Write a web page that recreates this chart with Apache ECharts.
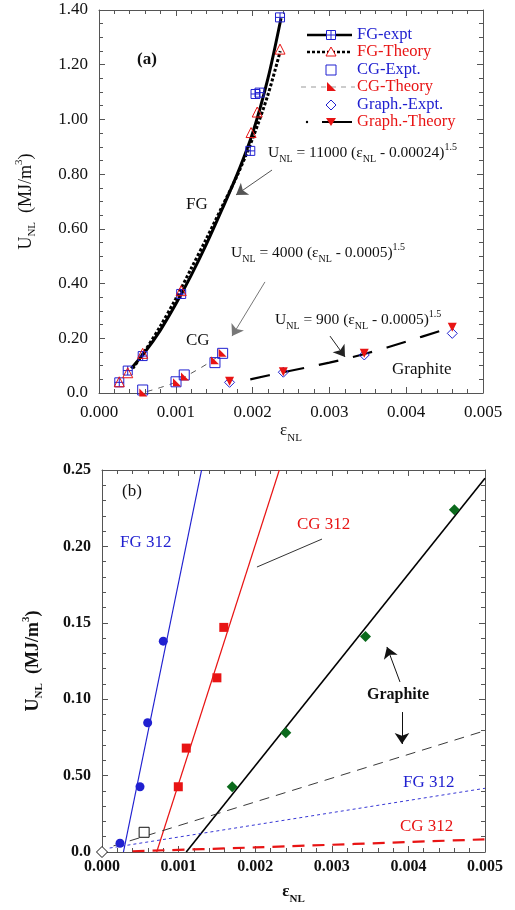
<!DOCTYPE html>
<html>
<head>
<meta charset="utf-8">
<script src="https://cdn.jsdelivr.net/npm/echarts@6/dist/echarts.min.js"></script>
<style>
  html, body { margin: 0; padding: 0; background: #fff; }
  #chart { width: 515px; height: 910px; }
</style>
</head>
<body>
<div id="chart"></div>
<script>
// ---- tick labels ----
const xTickLabels = ['0.000', '0.001', '0.002', '0.003', '0.004', '0.005'];
const yTickLabelsA = ['0.0', '0.20', '0.40', '0.60', '0.80', '1.00', '1.20', '1.40'];
const yTickLabelsB = ['0.0', '0.50', '0.10', '0.15', '0.20', '0.25']; // as printed in the figure

// ---- panel (a) ----
const fgExpt = [[0.000264, 0.039], [0.000374, 0.082], [0.000569, 0.135], [0.00107, 0.362],
  [0.00197, 0.885], [0.002038, 1.093], [0.00209, 1.098], [0.002357, 1.373]];
const fgTheory = [[0.000264, 0.041], [0.000374, 0.074], [0.000569, 0.145], [0.00107, 0.374],
  [0.00198, 0.952], [0.00206, 1.027], [0.002357, 1.257]];
const fgExptCurve = [[0.00042, 0.09], [0.0006, 0.15], [0.0008, 0.23], [0.001, 0.325], [0.0012, 0.43],
  [0.0014, 0.545], [0.0016, 0.67], [0.0018, 0.8], [0.002, 0.95], [0.0022, 1.15], [0.00237, 1.37]];
const fgTheoryCurve = [[0.00044, 0.09], [0.0006, 0.155], [0.0008, 0.245], [0.001, 0.345], [0.0012, 0.455],
  [0.0014, 0.565], [0.0016, 0.68], [0.0018, 0.795], [0.002, 0.93], [0.0022, 1.09], [0.00236, 1.25]];
const cgExpt = [[0.000569, 0.011], [0.001003, 0.041], [0.00111, 0.066], [0.00151, 0.111], [0.00161, 0.145]];
const cgTheory = [[0.000577, 0.002], [0.001016, 0.039], [0.00112, 0.06], [0.00151, 0.12], [0.00161, 0.147]];
const cgCurve = [[0.00062, 0.005], [0.0008, 0.02], [0.001, 0.04], [0.0012, 0.072], [0.0014, 0.105], [0.00161, 0.145]];
const graphExpt = [[0.0017, 0.039], [0.0024, 0.076], [0.003454, 0.139], [0.0046, 0.218]];
const graphTheory = [[0.0017, 0.043], [0.0024, 0.078], [0.003454, 0.145], [0.0046, 0.24]];
const graphCurve = [[0.00197, 0.05], [0.0024, 0.076], [0.003, 0.111], [0.0035, 0.146], [0.004, 0.188], [0.00448, 0.23]];

// ---- panel (b) ----
const fg312 = [[0.000235, 0.0057], [0.000496, 0.0427], [0.000596, 0.0846], [0.0008, 0.138]];
const fg312Line = [[0.00028, 0], [0.0013, 0.25]];
const cg312 = [[0.000996, 0.0427], [0.0011, 0.068], [0.0015, 0.114], [0.00159, 0.147]];
const cg312Line = [[0.000714, 0], [0.002315, 0.25]];
const graphite312 = [[0.0017, 0.0427], [0.0024, 0.078], [0.00344, 0.141], [0.0046, 0.224]];
const graphite312Line = [[0.0011, 0], [0.005, 0.2446]];
const graphiteThLine = [[0.00015, 0.004], [0.005, 0.0794]];
const fgThLine = [[0.0001, 0.0026], [0.005, 0.0417]];
const cgThLine = [[0.0004, 0.0005], [0.002, 0.003], [0.005, 0.0083]];
const openSquare = [[0.00055, 0.0129]];
const openDiamond = [[0, 0]];

const SERIF = '"Liberation Serif", "Times New Roman", serif';
const AX = '#555';
const BLUE = '#2020d0';
const RED = '#e81414';
const GREEN = '#0b6a1c';

const BOXCROSS = 'path://M0,0L10,0L10,10L0,10Z M5,0L5,10 M0,5L10,5';
const HALFTRI = 'path://M0,0L0,10L10,10Z';
const DOWNTRI = 'path://M0,0L10,0L5,9Z';

const chart = echarts.init(document.getElementById('chart'), null, { renderer: 'canvas' });

function xAxis(grid, top, bold, margin, gap) {
  const w = bold ? 'bold' : 'normal';
  return {
    gridIndex: grid, type: 'value', min: 0, max: 0.005, interval: 0.001,
    position: top ? 'top' : 'bottom',
    axisLine: { onZero: false, lineStyle: { color: AX, width: 1 } },
    axisTick: { inside: true, length: 6, lineStyle: { color: AX } },
    minorTick: { show: true, splitNumber: 5, length: 4, lineStyle: { color: AX } },
    splitLine: { show: false },
    axisLabel: {
      show: !top, margin: margin, color: '#111',
      fontFamily: SERIF, fontSize: bold ? 16 : 17, fontWeight: w,
      formatter: v => xTickLabels[Math.round(v / 0.001)]
    },
    name: top ? '' : '{e|ε}{s|NL}',
    nameLocation: 'middle', nameGap: gap,
    nameTextStyle: {
      rich: {
        e: { fontFamily: SERIF, fontSize: 17, color: '#111', lineHeight: 22, verticalAlign: 'top', fontWeight: w },
        s: { fontFamily: SERIF, fontSize: 11, color: '#111', verticalAlign: 'bottom', fontWeight: w }
      }
    }
  };
}

function yAxis(grid, right, max, interval, split, labels, bold, gap) {
  const w = bold ? 'bold' : 'normal';
  return {
    gridIndex: grid, type: 'value', min: 0, max: max, interval: interval,
    position: right ? 'right' : 'left',
    axisLine: { onZero: false, lineStyle: { color: AX, width: 1 } },
    axisTick: { inside: true, length: 6, lineStyle: { color: AX } },
    minorTick: { show: true, splitNumber: split, length: 4, lineStyle: { color: AX } },
    splitLine: { show: false },
    axisLabel: {
      show: !right, margin: 11, color: '#111',
      fontFamily: SERIF, fontSize: bold ? 16 : 17, fontWeight: w,
      formatter: v => labels[Math.round(v / interval)]
    },
    name: right ? '' : '{u|U}{s|NL}{u|  (MJ/m}{p|3}{u|)}',
    nameLocation: 'middle', nameRotate: 90, nameGap: gap,
    nameTextStyle: {
      rich: {
        u: { fontFamily: SERIF, fontSize: 18, color: '#111', lineHeight: 24, fontWeight: w },
        s: { fontFamily: SERIF, fontSize: 11, color: '#111', verticalAlign: 'bottom', fontWeight: w },
        p: { fontFamily: SERIF, fontSize: 11, color: '#111', verticalAlign: 'top', fontWeight: w }
      }
    }
  };
}

function curve(name, data, xi, color, width, dash, smooth) {
  return {
    name: name, type: 'line', xAxisIndex: xi, yAxisIndex: xi, data: data,
    showSymbol: false, smooth: smooth ? 0.3 : false, z: 2,
    lineStyle: { color: color, width: width, type: dash || 'solid', cap: 'butt' }
  };
}

function marks(name, data, xi, symbol, size, fill, stroke, clip) {
  return {
    name: name, type: 'scatter', xAxisIndex: xi, yAxisIndex: xi, data: data,
    symbol: symbol, symbolSize: size, z: 4, clip: clip !== false,
    itemStyle: { color: fill, borderColor: stroke || fill, borderWidth: stroke ? 1 : 0, opacity: 1 }
  };
}

function arrow(xi, from, to, color, head) {
  return {
    type: 'line', xAxisIndex: xi, yAxisIndex: xi, data: [], z: 3,
    markLine: {
      silent: true, animation: false,
      symbol: ['none', head ? 'arrow' : 'none'], symbolSize: 11,
      label: { show: false },
      lineStyle: { color: color, width: 1, type: 'solid' },
      data: [[{ coord: from }, { coord: to }]]
    }
  };
}

function txt(x, y, text, color, size, weight) {
  return {
    type: 'text', x: x, y: y, silent: true,
    style: { text: text, fill: color, font: (weight || 'normal') + ' ' + size + 'px ' + SERIF, textVerticalAlign: 'middle' }
  };
}

function formula(x, y, coef, off) {
  return {
    type: 'text', x: x, y: y, silent: true,
    style: {
      text: '{u|U}{s|NL}{u| = ' + coef + ' (ε}{s|NL}{u| - ' + off + ')}{p|1.5}',
      textVerticalAlign: 'middle',
      rich: {
        u: { fontFamily: SERIF, fontSize: 15.5, fill: '#111', lineHeight: 22 },
        s: { fontFamily: SERIF, fontSize: 10, fill: '#111', verticalAlign: 'bottom' },
        p: { fontFamily: SERIF, fontSize: 10, fill: '#111', verticalAlign: 'top' }
      }
    }
  };
}

function gline(x1, y1, x2, y2, stroke, w, dash) {
  return { type: 'line', silent: true, shape: { x1, y1, x2, y2 }, style: { stroke: stroke, lineWidth: w, lineDash: dash || null } };
}
function gpoly(points, fill, stroke) {
  return { type: 'polygon', silent: true, shape: { points: points }, style: { fill: fill, stroke: stroke || null, lineWidth: 1 } };
}

// legend of panel (a), drawn as graphics
const LX = 357;
const rows = [35, 52, 70, 87, 105, 122];
const LS = 16.5;
const legend = [
  gline(307, rows[0], 352, rows[0], '#000', 2.5),
  { type: 'rect', silent: true, shape: { x: 326.5, y: rows[0] - 4.5, width: 9, height: 9 }, style: { fill: '#fff', stroke: BLUE, lineWidth: 1 } },
  gline(331, rows[0] - 4.5, 331, rows[0] + 4.5, BLUE, 1),
  gline(326.5, rows[0], 335.5, rows[0], BLUE, 1),
  gline(307, rows[1], 352, rows[1], '#000', 2.5, [3, 2]),
  gpoly([[331, rows[1] - 5], [326, rows[1] + 4], [336, rows[1] + 4]], '#fff', RED),
  { type: 'rect', silent: true, shape: { x: 326, y: rows[2] - 5, width: 10, height: 10 }, style: { fill: '#fff', stroke: BLUE, lineWidth: 1 } },
  gline(301, rows[3], 355, rows[3], '#999', 1, [5, 5]),
  gpoly([[327, rows[3] - 5], [327, rows[3] + 4], [336, rows[3] + 4]], RED),
  gpoly([[331, rows[4] - 5], [336, rows[4]], [331, rows[4] + 5], [326, rows[4]]], '#fff', BLUE),
  { type: 'circle', silent: true, shape: { cx: 307, cy: rows[5], r: 1.2 }, style: { fill: '#000' } },
  gline(322, rows[5], 352, rows[5], '#000', 2),
  gpoly([[326, rows[5] - 4], [336, rows[5] - 4], [331, rows[5] + 4]], RED),
  txt(LX, rows[0], 'FG-expt', BLUE, LS),
  txt(LX, rows[1], 'FG-Theory', RED, LS),
  txt(LX, rows[2], 'CG-Expt.', BLUE, LS),
  txt(LX, rows[3], 'CG-Theory', RED, LS),
  txt(LX, rows[4], 'Graph.-Expt.', BLUE, LS),
  txt(LX, rows[5], 'Graph.-Theory', RED, LS)
];

const annotations = [
  txt(137, 60, '(a)', '#111', 17, 'bold'),
  txt(186, 205, 'FG', '#111', 17),
  txt(186, 341, 'CG', '#111', 17),
  formula(268, 153, '11000', '0.00024'),
  formula(231, 253, '4000', '0.0005'),
  formula(275, 320, '900', '0.0005'),
  txt(392, 370, 'Graphite', '#111', 17),
  txt(122, 492, '(b)', '#111', 17),
  txt(120, 543, 'FG 312', BLUE, 17),
  txt(297, 525, 'CG 312', RED, 17),
  txt(367, 695, 'Graphite', '#111', 16, 'bold'),
  txt(403, 783, 'FG 312', BLUE, 17),
  txt(400, 827, 'CG 312', RED, 17)
];

const option = {
  animation: false,
  backgroundColor: '#fff',
  textStyle: { fontFamily: SERIF },
  grid: [
    { left: 99, top: 10, width: 384, height: 383 },
    { left: 102, top: 470, width: 383, height: 382 }
  ],
  xAxis: [
    xAxis(0, false, false, 11, 29),
    xAxis(0, true, false, 11, 29),
    xAxis(1, false, true, 7, 31),
    xAxis(1, true, true, 7, 31)
  ],
  yAxis: [
    yAxis(0, false, 1.4, 0.2, 4, yTickLabelsA, false, 61),
    yAxis(0, true, 1.4, 0.2, 4, yTickLabelsA, false, 61),
    yAxis(1, false, 0.25, 0.05, 5, yTickLabelsB, true, 57),
    yAxis(1, true, 0.25, 0.05, 5, yTickLabelsB, true, 57)
  ],
  series: [
    // panel (a)
    curve('FG-expt fit', fgExptCurve, 0, '#000', 3, 'solid', true),
    curve('FG-Theory fit', fgTheoryCurve, 0, '#000', 3, [3, 2], true),
    curve('CG fit', cgCurve, 0, '#444', 0.9, [6, 6], true),
    curve('Graphite fit', graphCurve, 0, '#000', 2.2, [20, 15], true),
    marks('FG-expt', fgExpt, 0, BOXCROSS, 9, 'rgba(0,0,0,0)', BLUE),
    marks('FG-Theory', fgTheory, 0, 'triangle', 10, 'rgba(0,0,0,0)', RED),
    marks('CG-Expt.', cgExpt, 0, 'rect', 10, 'rgba(0,0,0,0)', BLUE),
    marks('CG-Theory', cgTheory, 0, HALFTRI, 8, RED),
    marks('Graph.-Expt.', graphExpt, 0, 'diamond', 10, 'rgba(0,0,0,0)', BLUE),
    marks('Graph.-Theory', graphTheory, 0, DOWNTRI, 9, RED),
    arrow(0, [0.002253, 0.815], [0.001784, 0.724], '#555', true),
    arrow(0, [0.002161, 0.406], [0.001732, 0.208], '#777', true),
    arrow(0, [0.003008, 0.208], [0.003203, 0.132], '#222', true),
    // panel (b)
    curve('FG 312', fg312Line, 2, BLUE, 1.2),
    curve('CG 312', cg312Line, 2, RED, 1.2),
    curve('Graphite', graphite312Line, 2, '#000', 1.6),
    curve('Graphite theory', graphiteThLine, 2, '#222', 0.9, [10, 7]),
    curve('FG 312 theory', fgThLine, 2, BLUE, 0.9, [3, 3]),
    curve('CG 312 theory', cgThLine, 2, RED, 2.2, [12, 8], true),
    marks('FG 312 pts', fg312, 2, 'circle', 9, BLUE),
    marks('CG 312 pts', cg312, 2, 'rect', 9, RED),
    marks('Graphite pts', graphite312, 2, 'diamond', 11, GREEN),
    marks('open square', openSquare, 2, 'rect', 10, '#fff', '#111'),
    marks('open diamond', openDiamond, 2, 'diamond', 11, '#fff', '#111', false),
    arrow(2, [0.002872, 0.2048], [0.002023, 0.1865], '#333', false),
    arrow(2, [0.00389, 0.1113], [0.00372, 0.1342], '#111', true),
    arrow(2, [0.003916, 0.0916], [0.003916, 0.0707], '#111', true)
  ],
  graphic: legend.concat(annotations)
};

chart.setOption(option);
</script>
</body>
</html>
